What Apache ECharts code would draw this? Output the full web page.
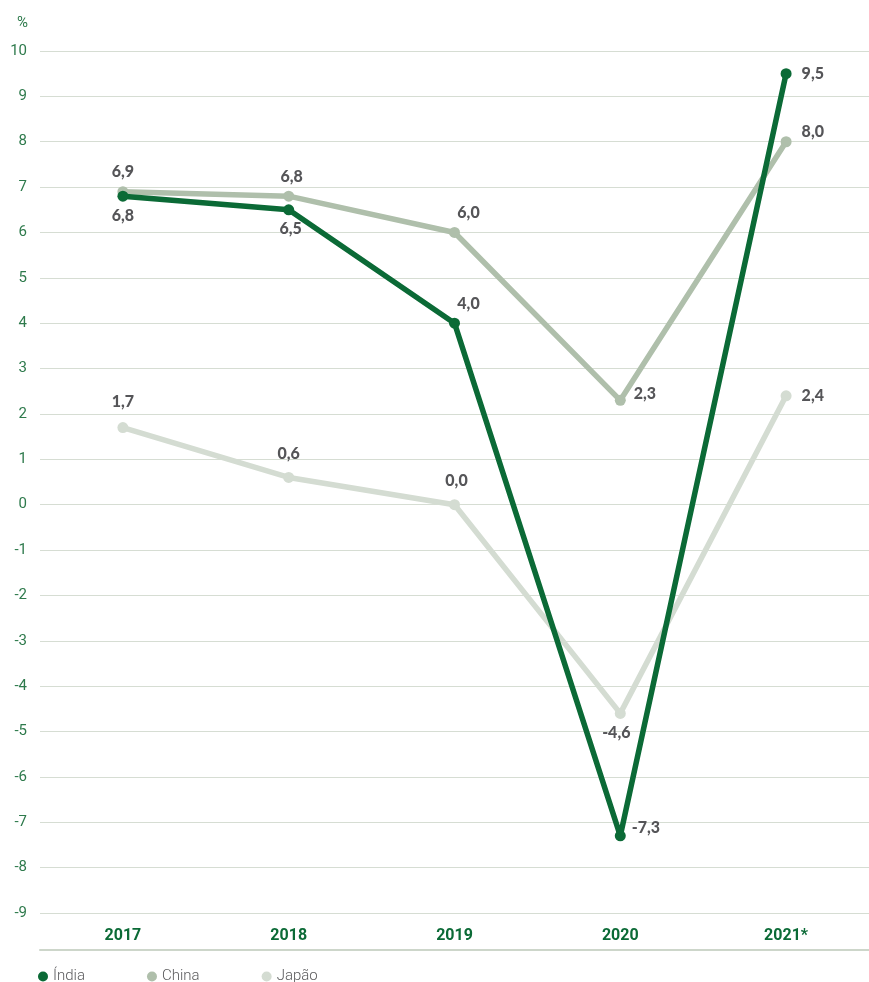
<!DOCTYPE html>
<html>
<head>
<meta charset="utf-8">
<script src="https://cdn.jsdelivr.net/npm/echarts@6/dist/echarts.min.js"></script>
<style>
  html, body { margin: 0; padding: 0; background: #fff; }
  #chart { width: 869px; height: 982px; }
</style>
</head>
<body>
<div id="chart"></div>
<script>
// Crescimento do PIB (%), 2017–2021*
const years = ['2017', '2018', '2019', '2020', '2021*'];
const india = [6.8, 6.5, 4.0, -7.3, 9.5];
const china = [6.9, 6.8, 6.0, 2.3, 8.0];
const japao = [1.7, 0.6, 0.0, -4.6, 2.4];
const yTicks = { min: -9, max: 10, step: 1 };

// Label placement per point: [position, dx, dy]
const indiaLabelAt = [['bottom', 0, 0], ['bottom', 2, 0], ['top', 14, 0], ['right', 0, -8], ['right', 4, 0]];
const chinaLabelAt = [['top', 0, 0], ['top', 3, 0], ['top', 14, 0], ['right', 2, -6], ['right', 4, -10]];
const japaoLabelAt = [['top', 0, -6], ['top', 0, -4], ['top', 2, -4], ['bottom', -4, 0], ['right', 4, 0]];

const COLORS = { india: '#0b6a36', china: '#afbfab', japao: '#d4dcd2' };
const fmt = v => v.toFixed(1).replace('.', ',');

function buildData(values, placement) {
  return values.map((v, i) => ({
    value: v,
    label: { position: placement[i][0], offset: [placement[i][1], placement[i][2]] }
  }));
}

const labelStyle = {
  show: true,
  formatter: p => fmt(p.value),
  color: '#555558',
  fontFamily: 'Lato, sans-serif',
  fontWeight: 900,
  fontSize: 16,
  distance: 6
};

function lineSeries(name, values, placement, color, z) {
  return {
    name: name,
    type: 'line',
    data: buildData(values, placement),
    symbol: 'circle',
    symbolSize: 11,
    z: z,
    lineStyle: { color: color, width: 5.5 },
    itemStyle: { color: color },
    label: labelStyle,
    emphasis: { disabled: true },
    animation: false
  };
}

const chart = echarts.init(document.getElementById('chart'), null, { renderer: 'canvas' });
chart.setOption({
  backgroundColor: '#ffffff',
  animation: false,
  grid: { left: 40, width: 837, top: 51, height: 862, containLabel: false },
  legend: {
    left: 33,
    top: 964,
    itemWidth: 10,
    itemHeight: 10,
    itemGap: 62,
    icon: 'circle',
    textStyle: { color: '#5a5a5c', fontFamily: 'Roboto, sans-serif', fontSize: 15, fontWeight: 300 },
    data: ['Índia', 'China', 'Japão']
  },
  xAxis: {
    type: 'category',
    data: years,
    boundaryGap: true,
    position: 'bottom',
    offset: 37,
    axisLine: { show: true, onZero: false, lineStyle: { color: '#cdd6ca', width: 2 } },
    axisTick: { show: false },
    axisLabel: {
      margin: -22,
      color: '#0b6a36',
      fontFamily: 'Roboto, sans-serif',
      fontWeight: 'bold',
      fontSize: 16
    },
    splitLine: { show: false }
  },
  yAxis: {
    type: 'value',
    min: yTicks.min,
    max: yTicks.max,
    interval: yTicks.step,
    name: '%',
    nameLocation: 'end',
    nameGap: 20,
    nameTextStyle: { color: '#2e7a4c', fontFamily: 'Roboto, sans-serif', fontSize: 15, align: 'right', padding: [0, 12, 0, 0] },
    axisLine: { show: false },
    axisTick: { show: false },
    axisLabel: {
      margin: 13,
      color: '#2e7a4c',
      fontFamily: 'Roboto, sans-serif',
      fontSize: 15
    },
    splitLine: { show: true, lineStyle: { color: '#d6ddd3', width: 1.2 } }
  },
  series: [
    lineSeries('Japão', japao, japaoLabelAt, COLORS.japao, 2),
    lineSeries('China', china, chinaLabelAt, COLORS.china, 3),
    lineSeries('Índia', india, indiaLabelAt, COLORS.india, 4)
  ]
});
</script>
</body>
</html>
